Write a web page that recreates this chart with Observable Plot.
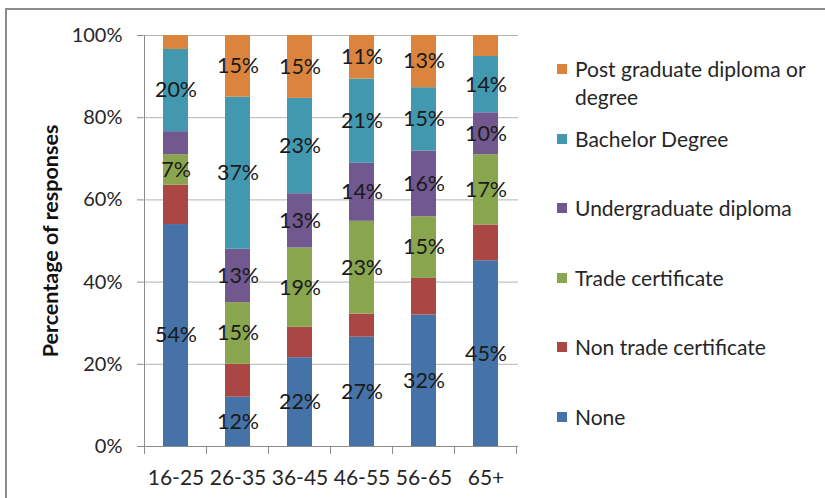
<!DOCTYPE html>
<html>
<head>
<meta charset="utf-8">
<script src="https://cdn.jsdelivr.net/npm/d3@7"></script>
<script src="https://cdn.jsdelivr.net/npm/@observablehq/plot@0.6"></script>
<style>
  body { margin: 0; background: #fff; font-family: Lato, sans-serif; }
  #wrap { position: relative; width: 825px; height: 498px; overflow: hidden; background: #fff; }
  #wrap svg { position: absolute; left: 0; top: 0; }
  #frame { position: absolute; left: 5px; top: 8px; width: 900px; height: 600px;
           border-top: 2px solid #8c8c8c; border-left: 2px solid #8c8c8c; pointer-events: none; }
  #ytitle { position: absolute; left: 50px; top: 241px; transform: translate(-50%, -50%) rotate(-90deg);
            white-space: nowrap; font-weight: bold; font-size: 21.5px; color: #111; }
  #legend { position: absolute; left: 557px; top: 55px; width: 262px; }
  .item { display: flex; align-items: flex-start; height: 69.6px; font-size: 21px; line-height: 28px; color: #262626; }
  .sw { width: 10px; height: 10px; flex: none; margin-top: 9px; margin-right: 8px; }
</style>
</head>
<body>
<div id="wrap"></div>
<script>
const ageGroups = ["16-25", "26-35", "36-45", "46-55", "56-65", "65+"];
const seriesNames = ["None", "Non trade certificate", "Trade certificate",
  "Undergraduate diploma", "Bachelor Degree", "Post graduate diploma or degree"];
const seriesColors = ["#4572A7", "#AA4643", "#89A54E", "#71588F", "#4198AF", "#DB843D"];

const none      = [54,   12,   21.6, 26.6, 32,   45.2];
const nonTrade  = [9.6,  8,    7.4,  5.6,  8.9,  8.7];
const trade     = [7.4,  15,   19.3, 22.6, 15,   17.1];
const undergrad = [5.6,  13,   13.2, 14.1, 16,   10.2];
const bachelor  = [20,   37,   23.2, 20.5, 15.4, 13.7];
const postgrad  = [3.4,  15,   15.3, 10.6, 12.7, 5.1];

const noneLabels      = ["54%", "12%", "22%", "27%", "32%", "45%"];
const nonTradeLabels  = [null, null, null, null, null, null];
const tradeLabels     = ["7%", "15%", "19%", "23%", "15%", "17%"];
const undergradLabels = [null, "13%", "13%", "14%", "16%", "10%"];
const bachelorLabels  = ["20%", "37%", "23%", "21%", "15%", "14%"];
const postgradLabels  = [null, "15%", "15%", "11%", "13%", null];

const yTicks = [0, 20, 40, 60, 80, 100];
const yTitle = "Percentage of responses";

const seriesValues = [none, nonTrade, trade, undergrad, bachelor, postgrad];
const seriesLabels = [noneLabels, nonTradeLabels, tradeLabels, undergradLabels, bachelorLabels, postgradLabels];

const rows = [];
seriesNames.forEach((s, si) => {
  ageGroups.forEach((a, ai) => {
    rows.push({series: s, age: a, value: seriesValues[si][ai], label: seriesLabels[si][ai]});
  });
});

const chart = Plot.plot({
  width: 825, height: 498,
  marginLeft: 143, marginRight: 307, marginTop: 35, marginBottom: 52,
  style: {background: "transparent", fontFamily: "Lato, sans-serif", fontSize: "20px", color: "#262626"},
  x: {domain: ageGroups, paddingInner: 0.6, paddingOuter: 0.3, label: null},
  y: {domain: [0, 100], label: null},
  color: {domain: seriesNames, range: seriesColors},
  marks: [
    Plot.gridY(yTicks, {stroke: "#b3b3b3", strokeOpacity: 1}),
    Plot.barY(rows, Plot.stackY({x: "age", y: "value", fill: "series"})),
    Plot.text(rows, Plot.stackY({x: "age", y: "value", text: "label", fill: "#1a1a1a", fontSize: 21.5})),
    Plot.ruleY([0], {stroke: "#8c8c8c"}),
    Plot.axisY(yTicks, {tickFormat: d => d + "%", tickSize: 6, tickPadding: 15, stroke: "#8c8c8c", fill: "#262626", fontSize: 20, label: null}),
    Plot.axisX({tickSize: 0, tickPadding: 24, fill: "#262626", fontSize: 21, label: null})
  ]
});

// band-boundary tick marks and left axis line, from the plot's own scales
const xs = chart.scale("x"), ys = chart.scale("y");
const step = xs.step, bw = xs.bandwidth;
const bounds = ageGroups.map(a => xs.apply(a) - (step - bw) / 2);
bounds.push(xs.apply(ageGroups[ageGroups.length - 1]) + bw + (step - bw) / 2);
const y0 = ys.apply(0), y100 = ys.apply(100);
const svg = d3.select(chart);
const g = svg.append("g").attr("stroke", "#8c8c8c");
g.selectAll("line.tk").data(bounds).join("line").attr("class", "tk")
  .attr("x1", d => d).attr("x2", d => d).attr("y1", y0).attr("y2", y0 + 8);
g.append("line").attr("x1", bounds[0]).attr("x2", bounds[0]).attr("y1", y100).attr("y2", y0 + 8);

const wrap = document.getElementById("wrap");
wrap.appendChild(chart);

const title = document.createElement("div");
title.id = "ytitle"; title.textContent = yTitle;
wrap.appendChild(title);

const legend = document.createElement("div");
legend.id = "legend";
for (let i = seriesNames.length - 1; i >= 0; i--) {
  const item = document.createElement("div");
  item.className = "item";
  const sw = document.createElement("div");
  sw.className = "sw"; sw.style.background = seriesColors[i];
  const tx = document.createElement("div");
  tx.textContent = seriesNames[i];
  item.appendChild(sw); item.appendChild(tx);
  legend.appendChild(item);
}
wrap.appendChild(legend);

const frame = document.createElement("div");
frame.id = "frame";
wrap.appendChild(frame);
</script>
</body>
</html>
